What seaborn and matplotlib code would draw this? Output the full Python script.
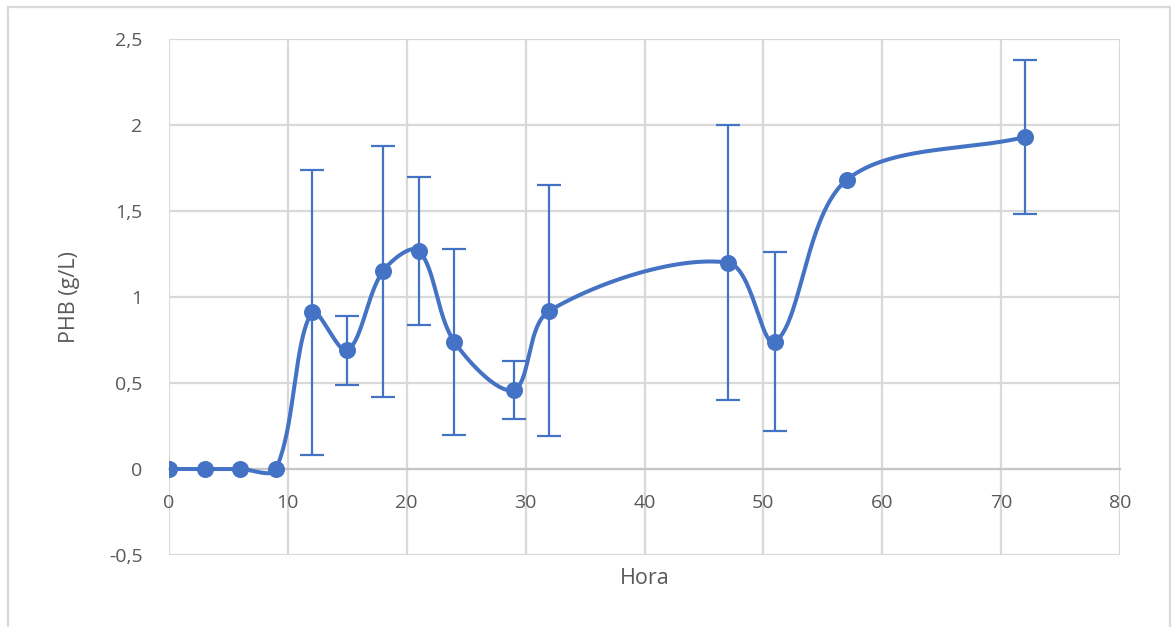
import numpy as np
import pandas as pd
import seaborn as sns
import matplotlib
matplotlib.use("Agg")
import matplotlib.pyplot as plt
from matplotlib.patches import Rectangle
from matplotlib.ticker import FuncFormatter

# PHB concentration over time, with standard deviation
hora = [0, 3, 6, 9, 12, 15, 18, 21, 24, 29, 32, 47, 51, 57, 72]
phb = [0, 0, 0, 0, 0.91, 0.69, 1.15, 1.27, 0.74, 0.46, 0.92, 1.20, 0.74, 1.68, 1.93]
desvio = [0, 0, 0, 0, 0.83, 0.20, 0.73, 0.43, 0.54, 0.17, 0.73, 0.80, 0.52, 0, 0.45]

x_ticks = [0, 10, 20, 30, 40, 50, 60, 70, 80]
y_ticks = [-0.5, 0, 0.5, 1, 1.5, 2, 2.5]

df = pd.DataFrame({"Hora": hora, "PHB": phb, "sd": desvio})

sns.set_theme(style="white")
plt.rcParams["font.family"] = ["Open Sans", "DejaVu Sans"]

BLUE = "#4472C4"
GRID = "#D9D9D9"
TEXT = "#595959"

fig = plt.figure(figsize=(11.71, 6.27), dpi=100)
ax = fig.add_axes([169 / 1171, 1 - 555 / 627, (1120 - 169) / 1171, (555 - 39) / 627])
ax.set_xlim(0, 80)
ax.set_ylim(-0.5, 2.5)

# grid
ax.set_xticks(x_ticks)
ax.set_yticks(y_ticks)
ax.grid(True, color=GRID, linewidth=1.6)
ax.set_axisbelow(True)
for s in ["top", "right", "left"]:
    ax.spines[s].set_visible(False)
ax.spines["bottom"].set_position(("data", 0))
ax.spines["bottom"].set_color("#C6C6C6")
ax.spines["bottom"].set_linewidth(1.6)
ax.spines["bottom"].set_zorder(1)

fmt = FuncFormatter(lambda v, p: ("%g" % v).replace(".", ","))
ax.xaxis.set_major_formatter(fmt)
ax.yaxis.set_major_formatter(fmt)
ax.tick_params(axis="x", length=0, pad=18, labelsize=14, labelcolor=TEXT)
ax.tick_params(axis="y", length=0, pad=19, labelsize=14, labelcolor=TEXT)

# smoothed curve: cubic Bezier through the points, control points weighted
# by neighbouring segment lengths (computed in display space)
pts = ax.transData.transform(np.column_stack([hora, phb]))
ext = np.vstack([pts[0], pts, pts[-1]])
curve = []
t = np.linspace(0, 1, 60)[:, None]
for i in range(1, len(ext) - 2):
    p0, p1, p2, p3 = ext[i - 1], ext[i], ext[i + 1], ext[i + 2]
    d01 = np.linalg.norm(p1 - p0)
    d12 = np.linalg.norm(p2 - p1)
    d23 = np.linalg.norm(p3 - p2)
    w1 = d12 / (d01 + d12) if d01 + d12 > 0 else 0
    w2 = d12 / (d12 + d23) if d12 + d23 > 0 else 0
    c1 = p1 + (p2 - p0) * w1 / 3
    c2 = p2 - (p3 - p1) * w2 / 3
    seg = ((1 - t) ** 3) * p1 + 3 * ((1 - t) ** 2) * t * c1 + 3 * (1 - t) * t ** 2 * c2 + t ** 3 * p2
    curve.append(seg if i == 1 else seg[1:])
curve = ax.transData.inverted().transform(np.vstack(curve))
smooth = pd.DataFrame({"Hora": curve[:, 0], "PHB": curve[:, 1]})
sns.lineplot(data=smooth, x="Hora", y="PHB", sort=False, estimator=None,
             color=BLUE, linewidth=2.9, ax=ax, zorder=3)

# error bars
eb = df[df["sd"] > 0]
ax.errorbar(eb["Hora"], eb["PHB"], yerr=eb["sd"], fmt="none", ecolor=BLUE,
            elinewidth=1.6, capsize=8.5, capthick=1.6, zorder=4)

# markers
sns.scatterplot(data=df, x="Hora", y="PHB", color=BLUE, s=150, edgecolor=BLUE,
                linewidth=0, ax=ax, zorder=5)

ax.set_xlabel("Hora", fontsize=15.5, color=TEXT)
ax.set_ylabel("PHB (g/L)", fontsize=15.5, color=TEXT)
ax.xaxis.set_label_coords(0.5, (555 - 578) / 516)
ax.xaxis.label.set_va("center")
ax.yaxis.set_label_coords((70 - 169) / 951, 0.5)
ax.yaxis.label.set_va("center")

# chart area border
fig.patches.append(Rectangle((7.5 / 1171, -0.05), (1169.5 - 7.5) / 1171, 1.05 - 7.5 / 627,
                             transform=fig.transFigure, fill=False,
                             edgecolor=GRID, linewidth=1.6))

fig.savefig("out.png", dpi=100)
